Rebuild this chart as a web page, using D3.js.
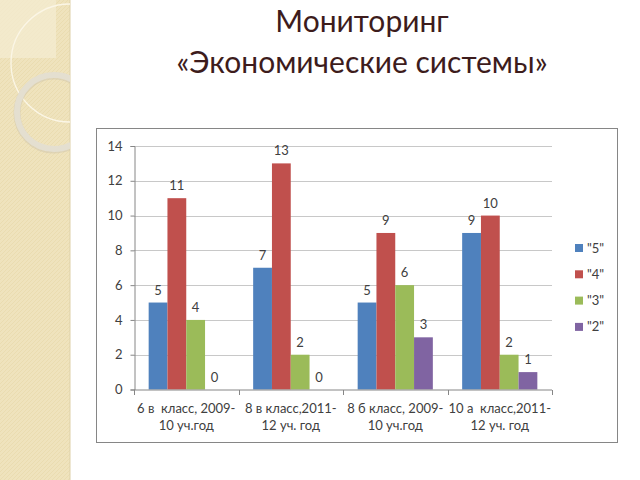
<!DOCTYPE html>
<html><head><meta charset="utf-8">
<script src="https://cdn.jsdelivr.net/npm/d3@7"></script>
<style>body{margin:0;background:#fff}svg{display:block}text{white-space:pre}</style>
</head><body>
<script>
const categories = [["6 в  класс, 2009-","10 уч.год"],["8 в класс,2011-","12 уч. год"],["8 б класс, 2009-","10 уч.год"],["10 а  класс,2011-","12 уч. год"]];
const seriesNames = ['"5"','"4"','"3"','"2"'];
const s5 = [5,7,5,9];
const s4 = [11,13,9,10];
const s3 = [4,2,6,2];
const s2 = [0,0,3,1];
const seriesValues = [s5,s4,s3,s2];
const colors = ["#4f81bd","#c0504d","#9bbb59","#8064a2"];
const yTicks = [0,2,4,6,8,10,12,14];

const svg = d3.select("body").append("svg").attr("width",640).attr("height",480);

// decorative left strip
const defs = svg.append("defs");
const pat = defs.append("pattern").attr("id","tex").attr("width",4).attr("height",4).attr("patternUnits","userSpaceOnUse");
pat.append("rect").attr("width",4).attr("height",4).attr("fill","#efe3bd");
pat.append("path").attr("d","M0,4L4,0").attr("stroke","#e6d6a8").attr("stroke-width",0.6);
svg.append("rect").attr("x",0).attr("y",0).attr("width",70).attr("height",480).attr("fill","url(#tex)");
svg.append("rect").attr("x",0).attr("y",0).attr("width",56).attr("height",58).attr("fill","#f4ebd0").attr("opacity",0.8);
svg.append("line").attr("x1",70).attr("x2",70).attr("y1",0).attr("y2",480).attr("stroke","#ddd0a8").attr("stroke-width",1);
const clip = defs.append("clipPath").attr("id","strip");
clip.append("rect").attr("width",70).attr("height",480);
const deco = svg.append("g").attr("clip-path","url(#strip)");
deco.append("circle").attr("cx",70).attr("cy",63).attr("r",59).attr("fill","none").attr("stroke","#fbf6e6").attr("stroke-width",1.3);
deco.append("circle").attr("cx",54).attr("cy",113).attr("r",37).attr("fill","none").attr("stroke","#cfc6ad").attr("stroke-width",7).attr("opacity",0.5);
deco.append("circle").attr("cx",54).attr("cy",112).attr("r",37).attr("fill","none").attr("stroke","#e4dfd0").attr("stroke-width",6);

// title
const title = svg.append("g").attr("fill","#3d1c1c").attr("font-family","Lato, 'Open Sans', sans-serif").attr("font-size",30).attr("text-anchor","middle");
title.append("text").attr("x",362).attr("y",32).text("Мониторинг");
title.append("text").attr("x",362).attr("y",73).text("«Экономические системы»");

// chart frame
svg.append("rect").attr("x",96.5).attr("y",128.5).attr("width",521).attr("height",314).attr("fill","#fff").attr("stroke","#868686").attr("stroke-width",1);

const plot = {left:134, right:552, top:146, bottom:389.5};
const x0 = d3.scaleBand().domain(d3.range(categories.length)).range([plot.left,plot.right]).paddingInner(0).paddingOuter(0);
const x1 = d3.scaleBand().domain(d3.range(seriesNames.length)).range([0,x0.bandwidth()]).paddingOuter(0.78).paddingInner(0);
const y = d3.scaleLinear().domain([0,14]).range([plot.bottom,plot.top]);

const font = "Lato, 'Open Sans', sans-serif";
const g = svg.append("g").attr("font-family",font);

// gridlines
g.append("g").selectAll("line").data(yTicks.filter(t=>t>0)).join("line")
  .attr("x1",plot.left).attr("x2",plot.right)
  .attr("y1",d=>Math.round(y(d))+0.5).attr("y2",d=>Math.round(y(d))+0.5)
  .attr("stroke","#c8c8c8").attr("stroke-width",1);

// y axis
const yAxis = g.append("g").attr("transform",`translate(${plot.left+0.5},0)`)
  .call(d3.axisLeft(y).tickValues(yTicks).tickSize(4).tickPadding(8));
yAxis.select(".domain").attr("stroke","#868686");
yAxis.selectAll(".tick line").attr("stroke","#868686");
yAxis.selectAll("text").attr("fill","#404040").attr("font-size",13).attr("font-family",font);

// bars
const groups = g.append("g").selectAll("g").data(categories).join("g")
  .attr("transform",(d,i)=>`translate(${x0(i)},0)`);
groups.selectAll("rect").data((d,i)=>seriesValues.map((s,k)=>({k,v:s[i]}))).join("rect")
  .attr("x",d=>x1(d.k)).attr("width",x1.bandwidth())
  .attr("y",d=>y(d.v)).attr("height",d=>y(0)-y(d.v))
  .attr("fill",d=>colors[d.k]);
groups.selectAll("text.lbl").data((d,i)=>seriesValues.map((s,k)=>({k,v:s[i]}))).join("text")
  .attr("class","lbl")
  .attr("x",d=>x1(d.k)+x1.bandwidth()/2).attr("y",d=>y(d.v)-8)
  .attr("text-anchor","middle").attr("font-size",13).attr("fill","#404040")
  .text(d=>d.v);

// x axis
const xAxis = g.append("g").attr("transform",`translate(0,${plot.bottom+0.5})`);
xAxis.append("line").attr("x1",plot.left).attr("x2",plot.right).attr("stroke","#868686");
xAxis.selectAll("line.tk").data(d3.range(categories.length+1)).join("line").attr("class","tk")
  .attr("x1",i=>Math.round(plot.left+i*x0.bandwidth())+0.5).attr("x2",i=>Math.round(plot.left+i*x0.bandwidth())+0.5)
  .attr("y1",0).attr("y2",5).attr("stroke","#868686");
const xl = xAxis.selectAll("text").data(categories).join("text")
  .attr("text-anchor","middle").attr("font-size",13).attr("fill","#404040")
  .attr("transform",(d,i)=>`translate(${x0(i)+x0.bandwidth()/2},0)`);
xl.selectAll("tspan").data(d=>d).join("tspan").attr("x",0).attr("y",(d,i)=>23+i*16.5).text(d=>d);

// legend
const leg = g.append("g").attr("transform","translate(575,0)");
const li = leg.selectAll("g").data(seriesNames).join("g").attr("transform",(d,i)=>`translate(0,${244+i*26.3})`);
li.append("rect").attr("width",8).attr("height",8).attr("fill",(d,i)=>colors[i]);
li.append("text").attr("x",12).attr("y",8.5).attr("font-size",13).attr("fill","#404040").text(d=>d);
</script>
</body></html>
